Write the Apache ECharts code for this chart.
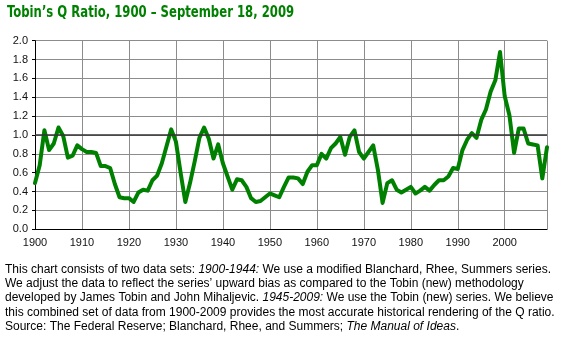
<!DOCTYPE html>
<html>
<head>
<meta charset="utf-8">
<script src="https://cdn.jsdelivr.net/npm/echarts@6/dist/echarts.min.js"></script>
<style>
html,body{margin:0;padding:0;background:#fff;}
#chart{width:562px;height:343px;}
</style>
</head>
<body>
<div id="chart"></div>
<script>
const titleText = "Tobin\u2019s Q Ratio, 1900 \u2013 September 18, 2009";
const years = [];
for (let y = 1900; y <= 2009; y++) years.push(y);
const qRatio = [
  0.49, 0.68, 1.05, 0.84, 0.91, 1.08, 0.99, 0.76, 0.78, 0.89,
  0.85, 0.82, 0.82, 0.81, 0.67, 0.67, 0.65, 0.48, 0.34, 0.33,
  0.33, 0.29, 0.39, 0.42, 0.41, 0.52, 0.57, 0.70, 0.88, 1.06,
  0.93, 0.60, 0.29, 0.49, 0.72, 0.97, 1.08, 0.96, 0.75, 0.90,
  0.70, 0.56, 0.42, 0.53, 0.52, 0.45, 0.33, 0.29, 0.30, 0.34,
  0.38, 0.36, 0.34, 0.45, 0.55, 0.55, 0.54, 0.48, 0.61, 0.68,
  0.68, 0.80, 0.75, 0.86, 0.91, 0.98, 0.79, 0.98, 1.05, 0.82,
  0.75, 0.82, 0.89, 0.63, 0.28, 0.49, 0.52, 0.42, 0.39, 0.42,
  0.45, 0.38, 0.41, 0.45, 0.41, 0.47, 0.52, 0.52, 0.56, 0.65,
  0.64, 0.84, 0.95, 1.02, 0.97, 1.16, 1.27, 1.46, 1.58, 1.88,
  1.41, 1.21, 0.81, 1.07, 1.07, 0.91, 0.90, 0.89, 0.54, 0.87
];
const captionLines = [
  "This chart consists of two data sets: {i|1900-1944:} We use a modified Blanchard, Rhee, Summers series.",
  "We adjust the data to reflect the series\u2019 upward bias as compared to the Tobin (new) methodology",
  "developed by James Tobin and John Mihaljevic. {i|1945-2009:} We use the Tobin (new) series. We believe",
  "this combined set of data from 1900-2009 provides the most accurate historical rendering of the Q ratio.",
  "Source: The Federal Reserve; Blanchard, Rhee, and Summers; {i|The Manual of Ideas}."
];

const chart = echarts.init(document.getElementById('chart'), null, {renderer: 'canvas'});
const font = "'Liberation Sans', Arial, sans-serif";
const graphics = [{
  type: 'text', x: 7, y: 5, scaleX: 0.81, scaleY: 1,
  style: {text: titleText, fill: '#008000', font: "bold 16px 'DejaVu Sans Condensed', 'DejaVu Sans', sans-serif"}
}];
captionLines.forEach((t, i) => {
  graphics.push({
    type: 'text', left: 5, top: 263.5 + i * 14.25,
    style: {
      text: t, fill: '#000', fontSize: 12, fontFamily: font,
      rich: {i: {fontStyle: 'italic', fontSize: 12, fontFamily: font, fill: '#000'}}
    }
  });
});

chart.setOption({
  animation: false,
  backgroundColor: '#fff',
  grid: {left: 35, top: 40.7, right: 15, bottom: 113.7, containLabel: false},
  xAxis: {
    type: 'value', min: 1900, max: 2009, interval: 10,
    axisLine: {show: true, lineStyle: {color: '#000', width: 1}},
    axisTick: {show: false},
    axisLabel: {color: '#111', fontSize: 11, fontFamily: font, margin: 8, showMaxLabel: false,
      formatter: v => String(v)},
    splitLine: {show: true, lineStyle: {color: '#8c8c8c', width: 1}}
  },
  yAxis: {
    type: 'value', min: 0, max: 2.0, interval: 0.2,
    axisLine: {show: true, lineStyle: {color: '#000', width: 1}},
    axisTick: {show: true, length: 3, lineStyle: {color: '#000'}},
    axisLabel: {color: '#111', fontSize: 11, fontFamily: font, margin: 7, formatter: v => v.toFixed(1)},
    splitLine: {show: true, lineStyle: {color: '#8c8c8c', width: 1}}
  },
  series: [{
    type: 'line',
    data: years.map((y, i) => [y, qRatio[i]]),
    showSymbol: false,
    lineStyle: {color: '#008000', width: 4, join: 'round', cap: 'round'},
    markLine: {
      silent: true, symbol: 'none', label: {show: false},
      lineStyle: {color: '#333', width: 1.5, type: 'solid'},
      data: [{yAxis: 1.0}]
    },
    z: 3
  }],
  graphic: graphics
});
</script>
</body>
</html>
